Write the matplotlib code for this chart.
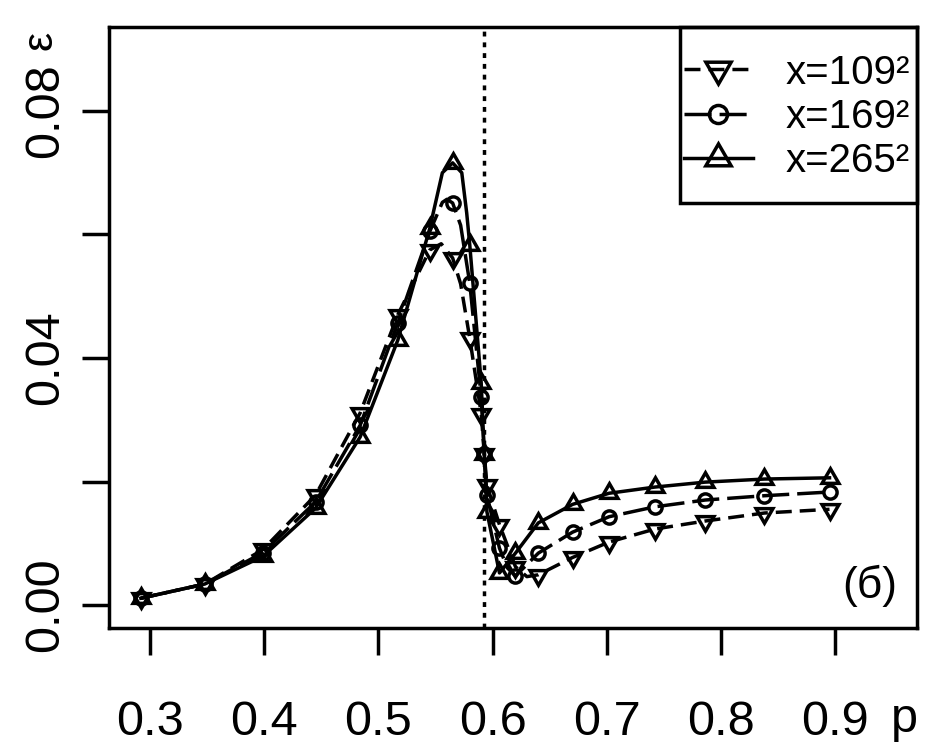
import matplotlib
matplotlib.use("Agg")
import matplotlib.pyplot as plt
from matplotlib.lines import Line2D
from matplotlib.patches import Rectangle
import numpy as np

FONT = "Liberation Sans"

# marker positions (same p for all three lattice sizes)
P_MARK = [0.292, 0.348, 0.399, 0.445, 0.484, 0.517, 0.545, 0.565, 0.580, 0.590,
          0.5927, 0.595, 0.606, 0.620, 0.640, 0.670, 0.702, 0.742, 0.786, 0.838, 0.895]
E109_MARK = [0.0011, 0.0034, 0.0090, 0.0178, 0.0311, 0.0470, 0.0575, 0.0562, 0.0432, 0.0310,
             0.0245, 0.0194, 0.0130, 0.0062, 0.0049, 0.0077, 0.0102, 0.0123, 0.0136, 0.0149, 0.0155]
E169_MARK = [0.0011, 0.0034, 0.0085, 0.0167, 0.0291, 0.0457, 0.0605, 0.0651, 0.0521, 0.0337,
             0.0245, 0.0178, 0.0092, 0.0047, 0.0084, 0.0118, 0.0143, 0.0159, 0.0170, 0.0177, 0.0183]
E265_MARK = [0.0011, 0.0034, 0.0079, 0.0157, 0.0272, 0.0429, 0.0610, 0.0716, 0.0583, 0.0360,
             0.0245, 0.0151, 0.0052, 0.0084, 0.0133, 0.0163, 0.0181, 0.0191, 0.0199, 0.0204, 0.0206]

P109_EXTRA = [0.555, 0.572, 0.630]
E109_EXTRA = [0.0585, 0.0520, 0.0046]
P169_EXTRA = [0.556, 0.560, 0.572, 0.613]
E169_EXTRA = [0.0652, 0.0657, 0.0615, 0.0060]
P265_EXTRA = [0.548, 0.556, 0.573, 0.5773]
E265_EXTRA = [0.0635, 0.0700, 0.0700, 0.0635]

LABELS = ["x=109²", "x=169²", "x=265²"]
P_C = 0.5927

X_TICKS = [0.3, 0.4, 0.5, 0.6, 0.7, 0.8, 0.9]
Y_TICKS = [0.00, 0.02, 0.04, 0.06, 0.08]
Y_TICKLABELS = ["0.00", "", "0.04", "", "0.08"]

LW = 2.5
TRI_DOWN = (3, 0, 180)
TRI_UP = (3, 0, 0)


def merged(p_mark, e_mark, p_extra, e_extra):
    p = np.array(list(p_mark) + list(p_extra))
    e = np.array(list(e_mark) + list(e_extra))
    order = np.argsort(p)
    return p[order], e[order]


fig = plt.figure(figsize=(9.45, 7.5), dpi=100)
ax = fig.add_axes([109 / 945, 122 / 750, 808 / 945, 601 / 750])

series = [
    (E109_MARK, P109_EXTRA, E109_EXTRA, (0, (4.6, 2.3)), TRI_DOWN, 14, 21),
    (E169_MARK, P169_EXTRA, E169_EXTRA, (0, (7.8, 2.3)), "o", 9.5, 13),
    (E265_MARK, P265_EXTRA, E265_EXTRA, "-", TRI_UP, 14, 21),
]
handles = []
for (e_mark, p_ex, e_ex, ls, mk, ms, ms_leg), lab in zip(series, LABELS):
    p_line, e_line = merged(P_MARK, e_mark, p_ex, e_ex)
    ax.plot(p_line, e_line, color="black", lw=LW, ls=ls, zorder=2)
    ax.plot(P_MARK, e_mark, ls="none", marker=mk, ms=ms, mfc="none",
            mec="black", mew=LW, zorder=3)
    handles.append(Line2D([], [], color="black", lw=LW, ls=ls, marker=mk,
                          markersize=ms_leg, mfc="none", mec="black", mew=LW))

ax.axvline(P_C, color="black", lw=LW, ls=(0, (1.4, 1.7)), zorder=1)

ax.set_xlim(0.2641, 0.9716)
ax.set_ylim(-0.00372, 0.0936)

ax.set_xticks(X_TICKS)
ax.set_xticklabels([f"{t:.1f}" for t in X_TICKS], fontfamily=FONT, fontsize=35)
ax.set_yticks(Y_TICKS)
ax.set_yticklabels(Y_TICKLABELS, fontfamily=FONT, fontsize=35, rotation=90, va="center")
ax.tick_params(axis="x", length=19.5, width=LW, pad=32)
ax.tick_params(axis="y", length=19.5, width=LW, pad=10)
for s in ax.spines.values():
    s.set_linewidth(LW)

ax.text(-0.085, 0.978, "ε", transform=ax.transAxes, rotation=90,
        ha="center", va="center", fontsize=31, fontfamily=FONT)
ax.text(0.985, -0.152, "p", transform=ax.transAxes,
        ha="center", va="center", fontsize=35, fontfamily=FONT)
ax.text(0.942, 0.07, "(б)", transform=ax.transAxes,
        ha="center", va="center", fontsize=32, fontfamily=FONT)

# legend entries without frame, box drawn separately (R-style padding)
leg = ax.legend(handles, LABELS, loc="center",
                bbox_to_anchor=((797 - 109) / 808, (628 - 117) / 601),
                frameon=False, prop={"family": FONT, "size": 29},
                handlelength=1.71, handletextpad=0.82, labelspacing=0.16,
                borderpad=0, borderaxespad=0, markerscale=1.0)
ax.add_patch(Rectangle(((680 - 109) / 808, (628 - 203) / 601),
                       1 - (680 - 109) / 808, 1 - (628 - 203) / 601,
                       transform=ax.transAxes, fill=False, edgecolor="black",
                       lw=LW, zorder=5, clip_on=False))

fig.savefig("out.png", dpi=100, facecolor="white")
